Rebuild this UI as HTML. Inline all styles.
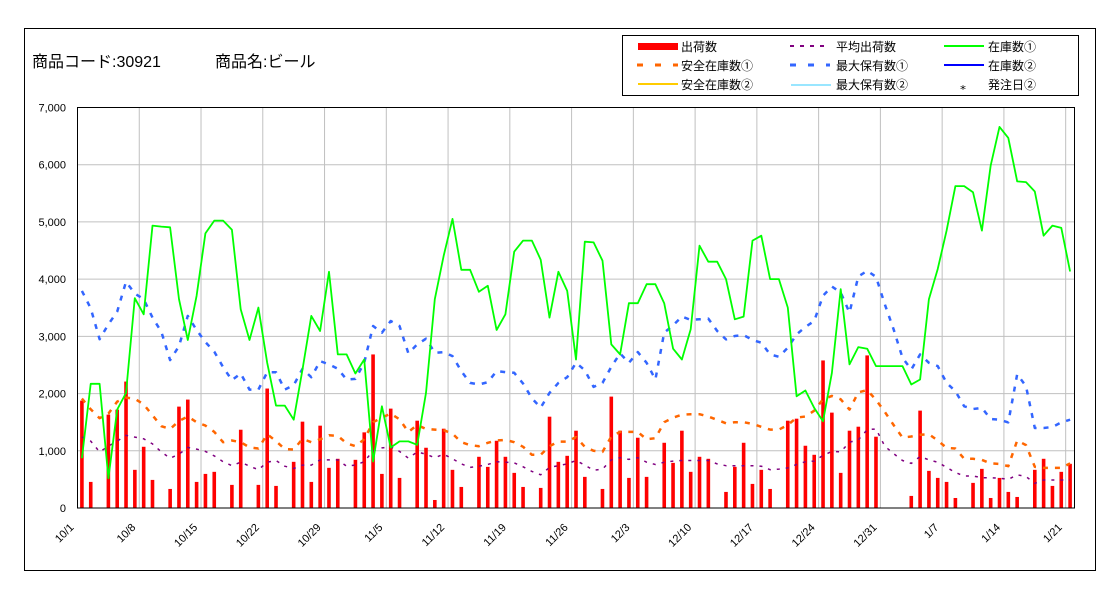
<!DOCTYPE html>
<html><head><meta charset="utf-8"><style>
html,body{margin:0;padding:0;background:#fff;}
svg{display:block;font-family:"Liberation Sans","Noto Sans CJK JP",sans-serif;}
</style></head><body>
<svg id="chart" width="1120" height="600" viewBox="0 0 1120 600" xmlns="http://www.w3.org/2000/svg">
<rect x="0" y="0" width="1120" height="600" fill="#fff"/>
<rect x="24.5" y="28.5" width="1071" height="542" fill="none" stroke="#000" stroke-width="1"/>
<text x="32" y="67" font-size="16">商品コード:30921</text>
<text x="215" y="67" font-size="16">商品名:ビール</text>
<g>
<rect x="622.5" y="35.5" width="456" height="60" fill="#fff" stroke="#000"/>
<g><rect x="638" y="43" width="40" height="7" fill="#ff0000"/><text x="681" y="51" font-size="12">出荷数</text></g>
<g><line x1="790" y1="46" x2="830" y2="46" stroke="#800080" stroke-width="2" stroke-dasharray="4,6"/><text x="836" y="51" font-size="12">平均出荷数</text></g>
<g><line x1="944" y1="46" x2="984" y2="46" stroke="#00ff00" stroke-width="2"/><text x="988" y="51" font-size="12">在庫数①</text></g>
<g><line x1="637" y1="65" x2="678" y2="65" stroke="#ff6600" stroke-width="3" stroke-dasharray="6,12"/><text x="681" y="70" font-size="12">安全在庫数①</text></g>
<g><line x1="790" y1="65" x2="830" y2="65" stroke="#3366ff" stroke-width="3" stroke-dasharray="6,12"/><text x="836" y="70" font-size="12">最大保有数①</text></g>
<g><line x1="944" y1="65" x2="984" y2="65" stroke="#0000ff" stroke-width="2"/><text x="988" y="70" font-size="12">在庫数②</text></g>
<g><line x1="638" y1="84" x2="678" y2="84" stroke="#ffcc00" stroke-width="2"/><text x="681" y="89" font-size="12">安全在庫数②</text></g>
<g><line x1="791" y1="85" x2="831" y2="85" stroke="#33ccff" stroke-width="1"/><text x="836" y="89" font-size="12">最大保有数②</text></g>
<g><text x="960" y="90" font-size="12">⁎</text><text x="988" y="89" font-size="12">発注日②</text></g>
</g>
<g id="plot"></g>
</svg>
<script>
const days = 113;
const startLabel = ["10/1","10/8","10/15","10/22","10/29","11/5","11/12","11/19","11/26","12/3","12/10","12/17","12/24","12/31","1/7","1/14","1/21"];
const yTicks = [0,1000,2000,3000,4000,5000,6000,7000];
const yTickLabels = ["0","1,000","2,000","3,000","4,000","5,000","6,000","7,000"];
const shipments = [1877,456,0,1632,1719,2210,667,1070,491,0,333,1772,1895,456,596,632,0,404,1368,0,404,2088,386,0,807,1509,456,1439,702,860,0,842,1322,2684,596,1737,526,0,1526,1053,140,1386,667,368,0,895,719,1175,895,614,368,0,351,1596,807,912,1351,544,0,333,1947,1351,526,1228,544,0,1140,789,1351,632,895,860,0,281,719,1140,421,667,333,0,1526,1561,1088,930,2579,1667,614,1351,1421,2667,1246,0,0,0,211,1702,649,526,456,175,0,439,684,175,526,281,193,0,667,860,386,632,772];
const avgShipments = [1240,1170,980,1080,1170,1270,1240,1210,1120,980,870,940,1060,1030,990,910,810,740,800,730,670,800,830,730,690,750,750,840,840,840,730,750,810,1000,1050,1070,990,870,980,940,880,940,860,770,710,730,760,810,800,790,720,640,580,710,740,770,830,750,660,680,840,880,850,880,800,760,800,820,830,830,830,830,770,740,740,740,740,730,670,680,700,760,810,820,920,990,980,1150,1190,1370,1380,1080,950,830,780,900,840,800,710,620,560,560,530,530,520,500,580,550,430,490,490,490,490];
const stock1 = [871,2170,2170,520,1719,2010,3667,3386,4936,4918,4906,3649,2936,3708,4800,5023,5023,4865,3474,2936,3503,2538,1789,1789,1544,2421,3357,3094,4128,2684,2684,2351,2596,813,1778,1058,1164,1164,1105,2012,3649,4409,5053,4164,4164,3778,3883,3111,3386,4480,4673,4673,4339,3327,4129,3795,2596,4655,4643,4322,2860,2684,3579,3579,3912,3912,3579,2784,2596,3123,4585,4304,4304,4000,3298,3345,4673,4760,4000,4000,3503,1953,2053,1749,1515,2363,3825,2509,2813,2784,2480,2480,2480,2480,2158,2246,3649,4175,4848,5626,5626,5520,4848,5988,6661,6468,5708,5696,5532,4760,4936,4895,4134];
const safety1 = [1912,1725,1570,1650,1860,1930,1910,1810,1620,1430,1380,1520,1600,1500,1440,1330,1150,1180,1150,1060,1040,1290,1170,1030,1020,1210,1150,1200,1270,1260,1130,1080,1200,1500,1580,1650,1550,1330,1450,1380,1370,1360,1300,1150,1100,1080,1140,1180,1190,1150,1070,930,930,1080,1160,1160,1240,1070,1000,980,1250,1330,1330,1330,1200,1220,1500,1580,1630,1640,1640,1600,1540,1480,1500,1500,1470,1420,1370,1370,1450,1580,1600,1700,1900,1960,1900,1720,2020,2060,1890,1680,1450,1230,1250,1280,1290,1180,1050,1040,860,860,840,780,770,730,1180,1100,720,700,700,700,780];
const maxStock1 = [3795,3491,2950,3210,3433,3953,3749,3650,3327,3082,2585,2830,3357,3111,2900,2731,2462,2234,2350,2070,2070,2374,2374,2070,2146,2433,2287,2567,2509,2433,2246,2257,2538,3181,3064,3269,3181,2702,2860,2959,2713,2725,2655,2392,2187,2158,2199,2392,2374,2363,2175,1918,1754,2012,2187,2287,2538,2409,2117,2187,2468,2702,2538,2725,2538,2246,3064,3193,3345,3287,3298,3310,3094,2947,3006,3023,2936,2889,2684,2643,2801,3035,3164,3269,3708,3871,3766,3415,4047,4146,4041,3561,3123,2626,2421,2684,2538,2480,2187,2041,1778,1731,1749,1556,1544,1497,2339,2129,1398,1398,1415,1497,1544];

const NS = "http://www.w3.org/2000/svg";
const plot = document.getElementById('plot');
const X0 = 77.5, X1 = 1074.5, Y0 = 508, Y1 = 107.5, YMAX = 7000;
const step = (X1 - X0) / days;
function xCenter(i){ return X0 + (i + 0.5) * step; }
function xEdge(i){ return X0 + i * step; }
function yPos(v){ return Y0 - v / YMAX * (Y0 - Y1); }
function mk(tag, attrs, parent){ const e = document.createElementNS(NS, tag); for (const k in attrs) e.setAttribute(k, attrs[k]); (parent||plot).appendChild(e); return e; }

mk('rect', {x:X0, y:Y1, width:X1-X0, height:Y0-Y1, fill:'#fff', stroke:'none'});
// horizontal grid + y labels
yTicks.forEach((t, k) => {
  const g = mk('line', {x1:X0, x2:X1, y1:yPos(t), y2:yPos(t), stroke:'#c0c0c0', 'stroke-width':1});
  
  
  const tx = mk('text', {x:66, y:yPos(t)+4, 'text-anchor':'end', 'font-size':11});
  tx.textContent = yTickLabels[k];
  
  
});
// vertical grid + x labels
startLabel.forEach((lab, k) => {
  const x = xEdge(k * 7);
  const g = mk('line', {x1:x, x2:x, y1:Y1, y2:Y0, stroke:'#c0c0c0', 'stroke-width':1});
  
  
  const tx = mk('text', {x:0, y:0, 'text-anchor':'end', 'font-size':11, transform:'translate(' + (x - 3) + ',528) rotate(-45)'});
  tx.textContent = lab;
  
  
});
// bars
shipments.forEach((v, i) => {
  if (v <= 0) return;
  const b = mk('rect', {x:xCenter(i)-1.8, y:yPos(v), width:3.6, height:Y0-yPos(v), fill:'#ff0000'});
  
  
});
function line(arr, color, width, dash, name){
  const d = arr.map((v,i)=>(i?'L':'M')+xCenter(i).toFixed(1)+','+yPos(v).toFixed(1)).join(' ');
  const p = mk('path', {d:d, fill:'none', stroke:color, 'stroke-width':width, 'stroke-linejoin':'round'});
  if (dash) p.setAttribute('stroke-dasharray', dash);
  
  
}
line(avgShipments, '#800080', 1.5, '3,6', 'average-shipments-line');
line(safety1, '#ff6600', 2.5, '5,7', 'safety-stock-1-line');
line(maxStock1, '#3366ff', 2.5, '5,7', 'max-stock-1-line');
line(stock1, '#00ff00', 1.8, null, 'stock-1-line');
// axes
const ax = mk('line', {x1:X0, x2:X1, y1:Y0, y2:Y0, stroke:'#000', 'stroke-width':1});


const ay = mk('line', {x1:X0, x2:X0, y1:Y1, y2:Y0, stroke:'#000', 'stroke-width':1});


const border = mk('rect', {x:X0, y:Y1, width:X1-X0, height:Y0-Y1, fill:'none', stroke:'#000', 'stroke-width':1});


</script>
</body></html>
